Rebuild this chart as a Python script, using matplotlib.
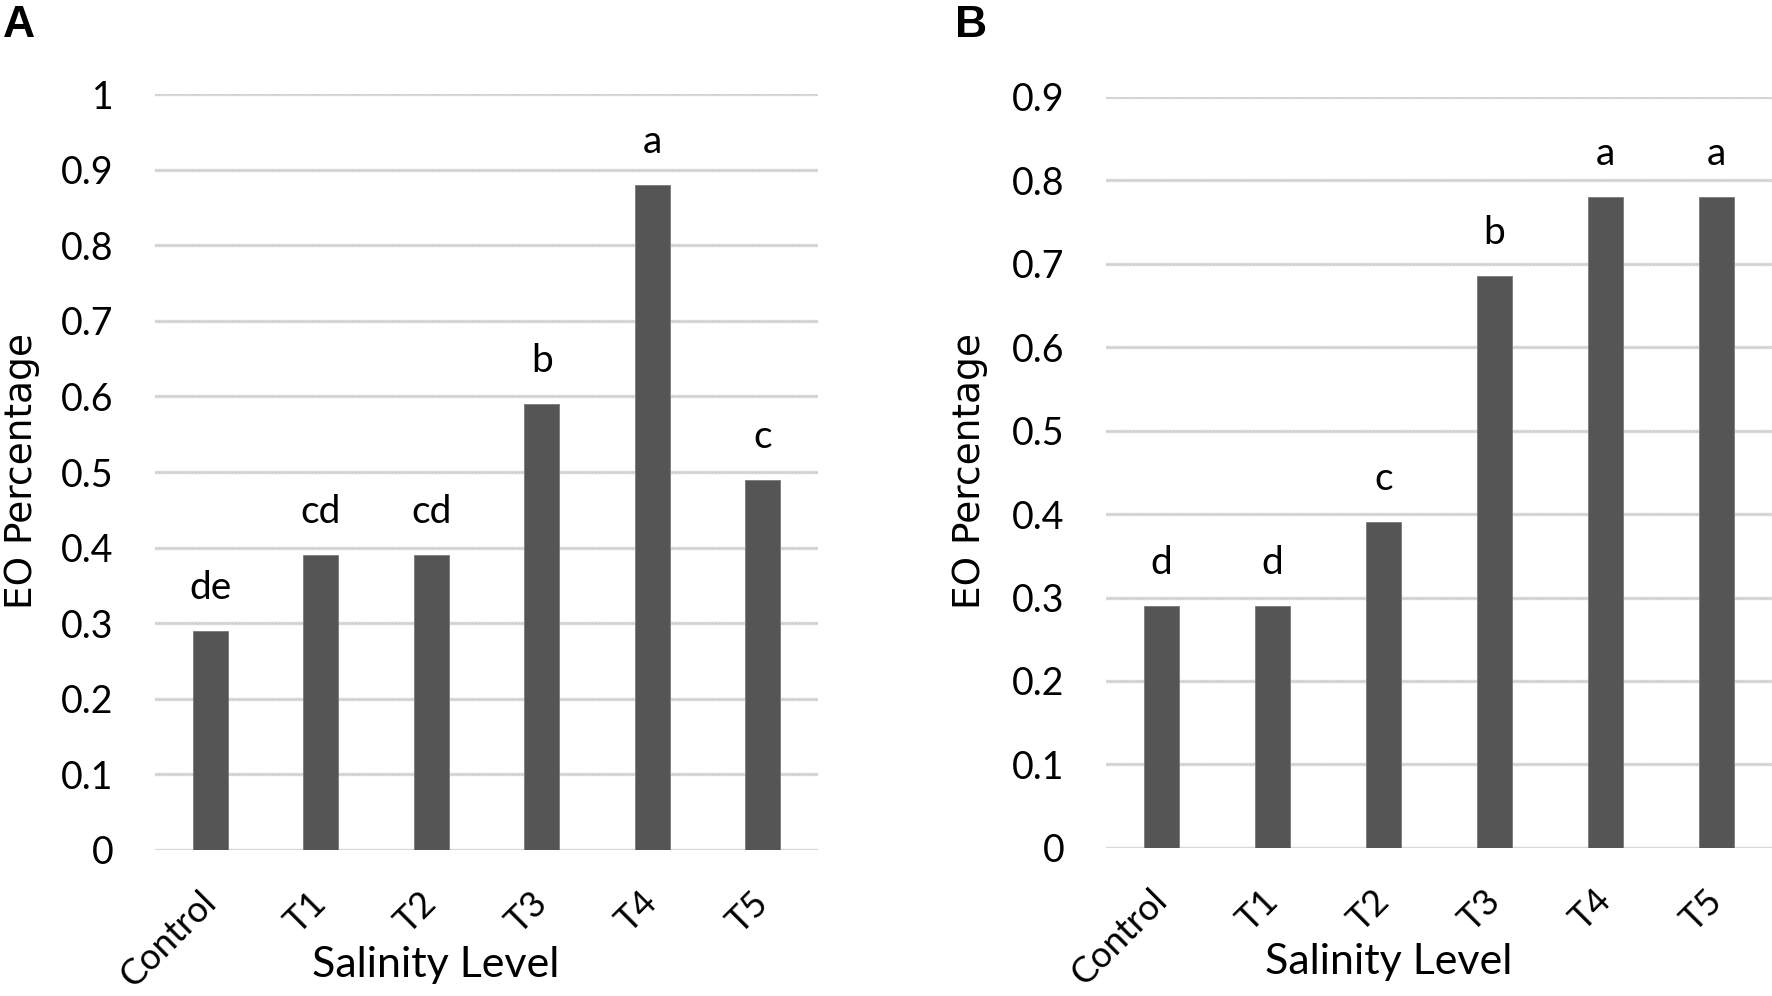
import matplotlib.pyplot as plt
import numpy as np

# salinity treatments, same for both panels
levels = ["Control", "T1", "T2", "T3", "T4", "T5"]

# panel A
eo_a = [0.29, 0.39, 0.39, 0.59, 0.88, 0.49]
letters_a = ["de", "cd", "cd", "b", "a", "c"]
yticks_a = [0, 0.1, 0.2, 0.3, 0.4, 0.5, 0.6, 0.7, 0.8, 0.9, 1]
ytick_labels_a = ["0", "0.1", "0.2", "0.3", "0.4", "0.5", "0.6", "0.7", "0.8", "0.9", "1"]

# panel B
eo_b = [0.29, 0.29, 0.39, 0.685, 0.78, 0.78]
letters_b = ["d", "d", "c", "b", "a", "a"]
yticks_b = [0, 0.1, 0.2, 0.3, 0.4, 0.5, 0.6, 0.7, 0.8, 0.9]
ytick_labels_b = ["0", "0.1", "0.2", "0.3", "0.4", "0.5", "0.6", "0.7", "0.8", "0.9"]

BAR = "#555555"
GRID = "#d9d9d9"
TICK_FONT = "Lato"


def draw_panel(ax, values, letters, yticks, ytick_labels):
    x = np.arange(len(levels))
    ax.set_axisbelow(True)
    for y in yticks:
        ax.axhline(y, color=GRID, linewidth=2.4, zorder=0)
        ax.axhline(y, color="#c4c4c4", linewidth=0.8, linestyle=(0, (1, 2)), zorder=0)
    ax.bar(x, values, width=0.32, color=BAR, edgecolor="#7a7a7a", linewidth=0.6, zorder=2)

    for xi, v, lab in zip(x, values, letters):
        ax.annotate(lab, (xi, v), xytext=(0, 31), textcoords="offset points",
                    ha="center", va="center", fontsize=28, family=TICK_FONT)

    ax.set_xlim(-0.5, len(levels) - 0.5)
    ax.set_ylim(yticks[0], yticks[-1])
    ax.set_yticks(yticks)
    ax.set_yticklabels(ytick_labels, fontsize=27, family=TICK_FONT)
    ax.set_xticks(x)
    ax.set_xticklabels(levels, fontsize=26, family=TICK_FONT, rotation=45,
                       ha="right", va="center", rotation_mode="anchor")
    ax.tick_params(axis="y", length=0, pad=30)
    ax.tick_params(axis="x", length=0, pad=34)
    for s in ax.spines.values():
        s.set_visible(False)

    ax.text(0.424, -0.152, "Salinity Level", transform=ax.transAxes,
            ha="center", va="center", fontsize=31, family=TICK_FONT)


fig = plt.figure(figsize=(17.72, 9.96), dpi=100)
fig.patch.set_facecolor("white")

ax_a = fig.add_axes([0.0875, 0.1466, 0.3741, 0.759])
ax_b = fig.add_axes([0.6242, 0.1486, 0.3758, 0.7545])

draw_panel(ax_a, eo_a, letters_a, yticks_a, ytick_labels_a)
draw_panel(ax_b, eo_b, letters_b, yticks_b, ytick_labels_b)

# y labels placed in figure pixels
fig.text(22 / 1772, 1 - 471 / 996, "EO Percentage", rotation=90, ha="center",
         va="center", fontsize=27, family="DejaVu Sans")
fig.text(970 / 1772, 1 - 471 / 996, "EO Percentage", rotation=90, ha="center",
         va="center", fontsize=27, family="DejaVu Sans")

# panel letters
fig.text(3 / 1772, 1 - 5 / 996, "A", ha="left", va="top", fontsize=32,
         fontweight="bold", family="Liberation Sans")
fig.text(955 / 1772, 1 - 5 / 996, "B", ha="left", va="top", fontsize=32,
         fontweight="bold", family="Liberation Sans")

fig.savefig("out.png", dpi=100)
